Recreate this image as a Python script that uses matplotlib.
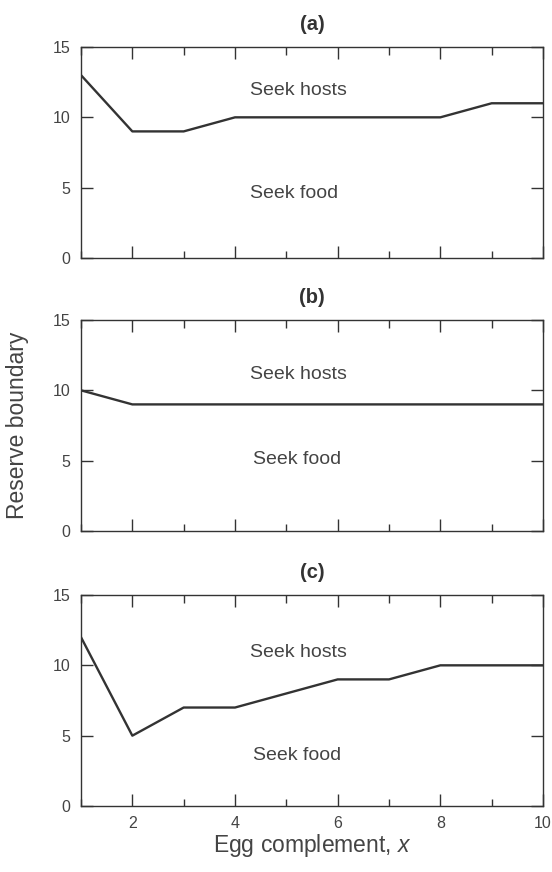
import numpy as np
import matplotlib
matplotlib.use("Agg")
import matplotlib.pyplot as plt
from matplotlib.ticker import MultipleLocator

plt.rcParams['font.family'] = ['Liberation Sans', 'DejaVu Sans']
plt.rcParams['mathtext.fontset'] = 'custom'
plt.rcParams['mathtext.it'] = 'Liberation Sans:italic'

# egg complement and reserve boundary per panel
egg = [1, 2, 3, 4, 5, 6, 7, 8, 9, 10]
boundary_a = [13, 9, 9, 10, 10, 10, 10, 10, 11, 11]
boundary_b = [10, 9, 9, 9, 9, 9, 9, 9, 9, 9]
boundary_c = [12, 5, 7, 7, 8, 9, 9, 10, 10, 10]
panel_titles = ['(a)', '(b)', '(c)']

# where the region labels sit (data coords)
hosts_pos = [(5.24, 11.9), (5.24, 11.1), (5.24, 10.9)]
food_pos = [(5.15, 4.55), (5.2, 5.05), (5.2, 3.6)]

ink = '#333333'
txt = '#444444'

fig = plt.figure(figsize=(5.52, 8.72), dpi=100)
W, H = 552.0, 872.0
left, right = 81, 543
tops = [47, 320, 595]
ph = 211

series = [boundary_a, boundary_b, boundary_c]
for i, (top, vals) in enumerate(zip(tops, series)):
    ax = fig.add_axes([left / W, 1 - (top + ph) / H, (right - left) / W, ph / H])
    ax.plot(egg, vals, color=ink, lw=1.7)
    ax.set_xlim(1, 10)
    ax.set_ylim(0, 15)
    ax.xaxis.set_major_locator(MultipleLocator(2))
    ax.xaxis.set_minor_locator(MultipleLocator(1))
    ax.yaxis.set_major_locator(MultipleLocator(5))
    ax.tick_params(which='both', direction='in', top=True, right=True,
                   color=ink, width=1.0, labelcolor=txt, labelsize=11.5, pad=7.5)
    ax.tick_params(which='major', length=8.6)
    ax.tick_params(which='minor', length=5.4)
    for s in ax.spines.values():
        s.set_color(ink)
        s.set_linewidth(1.0)
    if i < 2:
        ax.tick_params(labelbottom=False)
    ax.set_title(panel_titles[i], fontsize=14.5, fontweight='bold', color=ink, pad=12)
    ax.text(*hosts_pos[i], 'Seek hosts', ha='center', va='center', fontsize=14, color=txt)
    ax.text(*food_pos[i], 'Seek food', ha='center', va='center', fontsize=14, color=txt)

fig.text(312 / W, 1 - 852 / H, 'Egg complement, $x$', ha='center', va='baseline',
         fontsize=16.5, color=txt)
fig.text(18 / W, 1 - 425 / H, 'Reserve boundary', ha='center', va='center',
         rotation=90, fontsize=16.5, color=txt)

fig.savefig('out.png', dpi=100)
